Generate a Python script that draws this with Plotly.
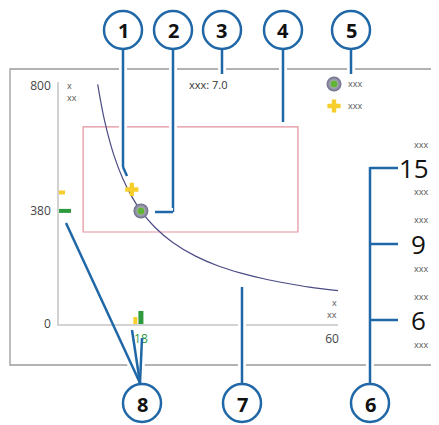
import plotly.graph_objects as go

OFF = 8  # page body margin
W, H = 439 - 2 * OFF, 425 - OFF

# curve
curve_x = [8.5, 10, 12, 14, 16, 18, 21, 25, 30, 35, 40, 45, 50, 55, 61.3]
curve_y = [805, 684, 570, 489, 428, 380, 326, 274, 228, 195, 171, 152, 137, 124, 112]

# the two marked points (green sphere, yellow cross)
pt_names = ["xxx", "xxx"]
pt_x = [18, 16]
pt_y = [380, 452]

# highlighted window
box_x = [5.3, 52.5]
box_y = [309, 662]

y_ticks = [0, 380, 800]
x_ticks = [18, 60]
param_label = "xxx: 7.0"
scale_values = [15, 9, 6]

BLUE = "#1f67a6"
GREEN = "#2e9a3e"
YELLOW = "#f6cf2c"
FONT = "Open Sans"


def px(x):
    return (x - OFF) / W


def py(y):
    return 1 - (y - OFF) / H


fig = go.Figure()

fig.add_trace(go.Scatter(x=curve_x, y=curve_y, mode="lines", line_shape="spline",
                         line=dict(color="#4b4b85", width=1.2), hoverinfo="skip"))
# green sphere
fig.add_trace(go.Scatter(x=[pt_x[0]], y=[pt_y[0]], mode="markers",
                         marker=dict(size=15, color="#6b6b86", line_width=0,
                                     gradient=dict(type="radial", color="#e6e6ee"))))
fig.add_trace(go.Scatter(x=[pt_x[0]], y=[pt_y[0]], mode="markers",
                         marker=dict(size=7, color="#62b536", line_width=0)))
# yellow cross
fig.add_trace(go.Scatter(x=[pt_x[1]], y=[pt_y[1]], mode="markers",
                         marker=dict(size=11, symbol="cross", color=YELLOW, line_width=0)))

# legend icons on a pixel overlay
leg_y = [84, 106]
fig.add_trace(go.Scatter(x=[334], y=[leg_y[0]], xaxis="x2", yaxis="y2", mode="markers",
                         marker=dict(size=15, color="#6b6b86", line_width=0,
                                     gradient=dict(type="radial", color="#e6e6ee"))))
fig.add_trace(go.Scatter(x=[334], y=[leg_y[0]], xaxis="x2", yaxis="y2", mode="markers",
                         marker=dict(size=7, color="#62b536", line_width=0)))
fig.add_trace(go.Scatter(x=[334], y=[leg_y[1]], xaxis="x2", yaxis="y2", mode="markers",
                         marker=dict(size=11, symbol="cross", color=YELLOW, line_width=0)))

shapes = []
# outer frame
shapes.append(dict(type="rect", xref="paper", yref="paper", x0=px(10), x1=px(460),
                   y0=py(365), y1=py(69), line=dict(color="#9a9a9a", width=1.3), layer="below"))
# pink window
shapes.append(dict(type="rect", xref="x", yref="y", x0=box_x[0], x1=box_x[1],
                   y0=box_y[0], y1=box_y[1], line=dict(color="#e1929c", width=1.2), layer="below"))

# rug bars
rug_col = [GREEN, YELLOW]
rug_len = [13, 7]
rug_dx = [(-2.5, 2.5), (1.5, 5.5)]
rug_dy = [(-2, 2), (-5, -1)]
for i in range(2):
    shapes.append(dict(type="rect", xref="x", yref="y", xsizemode="pixel", ysizemode="pixel",
                       xanchor=pt_x[i], yanchor=0, x0=rug_dx[i][0], x1=rug_dx[i][1],
                       y0=0, y1=rug_len[i], fillcolor=rug_col[i], line_width=0))
    shapes.append(dict(type="rect", xref="x", yref="y", xsizemode="pixel", ysizemode="pixel",
                       xanchor=0, yanchor=pt_y[i], x0=0, x1=rug_len[i] - 1,
                       y0=rug_dy[i][0], y1=rug_dy[i][1], fillcolor=rug_col[i], line_width=0))


def seg(x0, y0, x1, y1, halo=True):
    if halo:
        shapes.append(dict(type="line", xref="paper", yref="paper", x0=px(x0), y0=py(y0),
                           x1=px(x1), y1=py(y1), line=dict(color="white", width=8)))
    shapes.append(dict(type="line", xref="paper", yref="paper", x0=px(x0), y0=py(y0),
                       x1=px(x1), y1=py(y1), line=dict(color=BLUE, width=2.5)))


# callout leader lines
seg(123, 50, 123, 167)
seg(123, 167, 127, 176, halo=False)
seg(173, 50, 173, 212)
seg(173, 212, 155, 212)
seg(222, 50, 222, 74)
seg(283, 50, 283, 122)
seg(351, 50, 351, 74)
seg(242, 383, 242, 287)
seg(370, 383, 370, 167)
scale_y = [168, 244, 320]
for ty in scale_y:
    seg(370, ty, 398, ty, halo=False)
# callout 8: three leaders from one point
ends8 = [(66, 223), (132, 330), (142, 338)]
for ex, ey in ends8:
    t = (383 - 352) / (383 - ey)
    shapes.append(dict(type="line", xref="paper", yref="paper", x0=px(140), y0=py(383),
                       x1=px(140 + (ex - 140) * t), y1=py(352),
                       line=dict(color="white", width=8)))
for ex, ey in ends8:
    seg(140, 383, ex, ey, halo=False)

annos = []
callouts = [(1, 123, 30), (2, 173, 30), (3, 222, 30), (4, 283, 30), (5, 351, 30),
            (8, 142, 403), (7, 242, 403), (6, 370, 403)]
for n, cx, cy in callouts:
    shapes.append(dict(type="circle", xref="paper", yref="paper", x0=px(cx - 19), x1=px(cx + 19),
                       y0=py(cy + 19), y1=py(cy - 19), fillcolor="white",
                       line=dict(color=BLUE, width=2.5)))
    annos.append(dict(xref="paper", yref="paper", x=px(cx), y=py(cy + 1), text="<b>%d</b>" % n,
                      showarrow=False, xanchor="center", yanchor="middle",
                      font=dict(size=20, color="#111", family=FONT)))


def txt(x, y, s, size=9, color="#555", xanchor="center"):
    annos.append(dict(xref="paper", yref="paper", x=px(x), y=py(y), text=s, showarrow=False,
                      xanchor=xanchor, yanchor="middle",
                      font=dict(size=size, color=color, family=FONT)))


# axis titles
txt(65, 86, "x", xanchor="left")
txt(65, 97, "xx", xanchor="left")
txt(339, 302, "x", xanchor="right")
txt(339, 314, "xx", xanchor="right")
txt(187, 85, param_label, size=11, color="#333", xanchor="left")
for i, yy in enumerate(leg_y):
    txt(346, yy, pt_names[i], xanchor="left")
# right scale
for v, cy in zip(scale_values, scale_y):
    txt(421, cy - 24, "xxx")
    txt(414 if v >= 10 else 418, cy, str(v), size=26, color="#111")
    txt(421, cy + 24, "xxx")

fig.update_layout(
    width=W, height=H, margin=dict(l=0, r=0, t=0, b=0, autoexpand=False), autosize=False,
    paper_bgcolor="white", plot_bgcolor="rgba(0,0,0,0)", showlegend=False,
    font=dict(family=FONT, color="#444", size=12),
    xaxis=dict(domain=[px(59), px(338)], range=[0, 61.3], showgrid=False, zeroline=False,
               showline=True, linecolor="#d2d2d2", linewidth=1.5, tickvals=x_ticks,
               ticktext=['<span style="color:%s">18</span>' % GREEN, "60"], ticks="",
               ticklabelstandoff=3, tickfont=dict(size=12, color="#444"), automargin=False),
    yaxis=dict(domain=[py(324), py(82)], range=[0, 813], showgrid=False, zeroline=False,
               showline=True, linecolor="#d2d2d2", linewidth=1.5, tickvals=y_ticks, ticks="",
               ticklabelstandoff=4, tickfont=dict(size=12, color="#444"), automargin=False),
    xaxis2=dict(domain=[0, 1], range=[OFF, W + OFF], visible=False, anchor="y2",
                fixedrange=True, automargin=False),
    yaxis2=dict(domain=[0, 1], range=[H + OFF, OFF], visible=False, anchor="x2",
                fixedrange=True, automargin=False),
    shapes=shapes, annotations=annos,
)

fig.write_html("out.html")
